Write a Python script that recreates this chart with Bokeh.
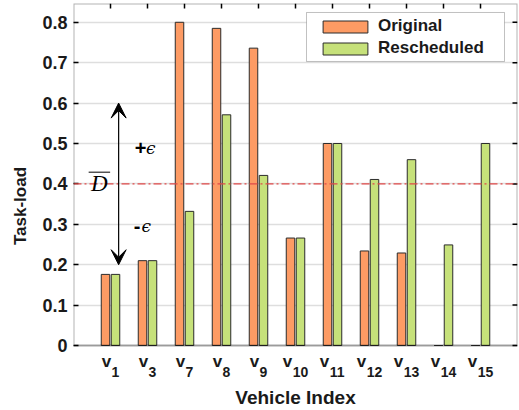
from bokeh.plotting import figure
from bokeh.models import (LinearAxis, FixedTicker, Span, Arrow, VeeHead, Label,
                          Legend, LegendItem, BoxAnnotation, Range1d, ColumnDataSource)
from bokeh.transform import dodge
from bokeh.embed import file_html
from bokeh.resources import INLINE

# ---- data ----
categories = ["1", "3", "7", "8", "9", "10", "11", "12", "13", "14", "15"]
original = [0.176, 0.210, 0.800, 0.785, 0.736, 0.266, 0.500, 0.234, 0.229, 0.0, 0.0]
rescheduled = [0.176, 0.210, 0.332, 0.571, 0.421, 0.266, 0.500, 0.411, 0.460, 0.249, 0.500]
y_ticks = [0, 0.1, 0.2, 0.3, 0.4, 0.5, 0.6, 0.7, 0.8]
y_tick_labels = ["0", "0.1", "0.2", "0.3", "0.4", "0.5", "0.6", "0.7", "0.8"]
d_bar = 0.4
eps = 0.2
series_names = ["Original", "Rescheduled"]
x_title = "Vehicle Index"
y_title = "Task-load"

positions = list(range(1, len(categories) + 1))

ORANGE = "#FD9B64"
GREEN = "#C6E17A"
EDGE = "#2b2b2b"
TXT = "#1a1a1a"
SANS = "Liberation Sans"

X_MAX = 12
Y_TOP = 0.8465
Y_BOT = -0.1559
PX_PER_Y = 404.0  # pixels per data unit in y
PX_PER_X = 37.0

p = figure(width=518, height=408, x_range=Range1d(0, X_MAX), y_range=Range1d(Y_BOT, Y_TOP),
           output_backend="svg", toolbar_location=None,
           min_border_left=73, min_border_right=1, min_border_top=3, min_border_bottom=0,
           x_axis_location=None, y_axis_location=None)
p.background_fill_color = "white"
p.border_fill_color = "white"
p.outline_line_color = None

# grid
p.xgrid.visible = False
p.ygrid.ticker = FixedTicker(ticks=y_ticks)
p.ygrid.grid_line_color = "#DEDEDE"
p.ygrid.grid_line_width = 1.5

# left axis (labels only + inward ticks)
left = LinearAxis()
left.ticker = FixedTicker(ticks=y_ticks)
left.axis_line_color = None
left.major_tick_in = 5
left.major_tick_out = 0
left.major_tick_line_color = "black"
left.major_tick_line_width = 1.5
left.minor_tick_line_color = None
left.major_label_overrides = {t: l for t, l in zip(y_ticks, y_tick_labels)}
left.major_label_text_font = SANS
left.major_label_text_font_style = "bold"
left.major_label_text_font_size = "18px"
left.major_label_text_color = TXT
left.major_label_standoff = 6
left.axis_label = y_title
left.axis_label_text_font = SANS
left.axis_label_text_font_style = "bold"
left.axis_label_text_font_size = "17px"
left.axis_label_text_color = TXT
left.axis_label_standoff = 9
p.add_layout(left, "left")

# bars
src = ColumnDataSource(dict(x=positions, orig=original, resc=rescheduled))
r1 = p.vbar(x=dodge("x", -0.135), top="orig", bottom=0, width=0.23, source=src,
            fill_color=ORANGE, line_color=EDGE, line_width=1)
r2 = p.vbar(x=dodge("x", 0.135), top="resc", bottom=0, width=0.23, source=src,
            fill_color=GREEN, line_color=EDGE, line_width=1)

# axes box (y from 0 to top, x full)
p.add_layout(BoxAnnotation(left=0, right=X_MAX, bottom=0, top=Y_TOP, fill_alpha=0,
                           line_color="black", line_width=2, level="overlay"))

# inward ticks on right and top
tick_len_x = 5 / PX_PER_X
tick_len_y = 5 / PX_PER_Y
p.segment(x0=[X_MAX] * len(y_ticks), x1=[X_MAX - tick_len_x] * len(y_ticks),
          y0=y_ticks, y1=y_ticks, line_color="black", line_width=1.5)
p.segment(x0=positions, x1=positions, y0=[Y_TOP] * len(positions),
          y1=[Y_TOP - tick_len_y] * len(positions), line_color="black", line_width=1.5)

# D-bar line
p.add_layout(Span(location=d_bar, dimension="width", line_color="#E04848",
                  line_width=1.2, line_dash="8 3 2 3"))

# epsilon arrow
arrow_x = 1.22
p.add_layout(Arrow(start=VeeHead(size=15, fill_color="black", line_color="black"),
                   end=VeeHead(size=15, fill_color="black", line_color="black"),
                   x_start=arrow_x, y_start=d_bar - eps, x_end=arrow_x, y_end=d_bar + eps,
                   line_color="black", line_width=1.2))

p.add_layout(Label(x=1.81, y=d_bar + 0.09, text="+", text_font=SANS, text_font_style="bold",
                   text_font_size="20px", text_align="center", text_baseline="middle",
                   text_color="black"))
p.add_layout(Label(x=1.96, y=d_bar + 0.09, text="ϵ", text_font="DejaVu Serif",
                   text_font_style="italic", text_font_size="17px", text_align="left",
                   text_baseline="middle", text_color="black"))
p.add_layout(Label(x=1.72, y=d_bar - 0.103, text="-", text_font=SANS, text_font_style="bold",
                   text_font_size="20px", text_align="center", text_baseline="middle",
                   text_color="black"))
p.add_layout(Label(x=1.84, y=d_bar - 0.103, text="ϵ", text_font="DejaVu Serif",
                   text_font_style="italic", text_font_size="17px", text_align="left",
                   text_baseline="middle", text_color="black"))

# D with overline
p.add_layout(Label(x=0.70, y=d_bar, text="D", text_font="Liberation Serif",
                   text_font_style="italic", text_font_size="23px", text_align="center",
                   text_baseline="middle", text_color="black"))
p.add_layout(Arrow(start=None, end=None, x_start=0.41, x_end=0.99,
                   y_start=d_bar + 0.029, y_end=d_bar + 0.029, line_color="black", line_width=1))

# x tick labels: v with subscript
V_SIZE = 17
D_SIZE = 14
vw = 0.556 * V_SIZE
dw = 0.556 * D_SIZE
gap = 0.5
for xpos, c in zip(positions, categories):
    total = vw + gap + len(c) * dw
    v_right = -total / 2 + vw
    p.add_layout(Label(x=xpos, y=-16 / PX_PER_Y, x_offset=v_right, text="v", text_font=SANS,
                       text_font_style="bold", text_font_size=f"{V_SIZE}px", text_align="right",
                       text_baseline="alphabetic", text_color=TXT))
    p.add_layout(Label(x=xpos, y=-26 / PX_PER_Y, x_offset=v_right + gap, text=c, text_font=SANS,
                       text_font_style="bold", text_font_size=f"{D_SIZE}px", text_align="left",
                       text_baseline="alphabetic", text_color=TXT))

# x axis title
p.add_layout(Label(x=X_MAX / 2, y=-52 / PX_PER_Y, text=x_title, text_font=SANS,
                   text_font_style="bold", text_font_size="19px", text_align="center",
                   text_baseline="alphabetic", text_color=TXT))

# legend box + legend
p.add_layout(BoxAnnotation(left=(306 - 73) / PX_PER_X, right=(504 - 73) / PX_PER_X,
                           top=(345 - 12) / PX_PER_Y, bottom=(345 - 61) / PX_PER_Y,
                           fill_color="white", fill_alpha=1.0, line_color="#333333",
                           line_width=1))
legend = Legend(items=[LegendItem(label=series_names[0], renderers=[r1]),
                       LegendItem(label=series_names[1], renderers=[r2])],
                location=(240, 346), orientation="vertical")
legend.margin = 0
legend.padding = 4
legend.spacing = 2
legend.glyph_width = 56
legend.glyph_height = 15
legend.label_height = 20
legend.label_standoff = 5
legend.label_text_font = SANS
legend.label_text_font_style = "bold"
legend.label_text_font_size = "17px"
legend.label_text_color = TXT
legend.label_text_baseline = "middle"
legend.background_fill_alpha = 0
legend.border_line_alpha = 0
p.add_layout(legend)

open("out.html", "w").write(file_html(p, INLINE))
